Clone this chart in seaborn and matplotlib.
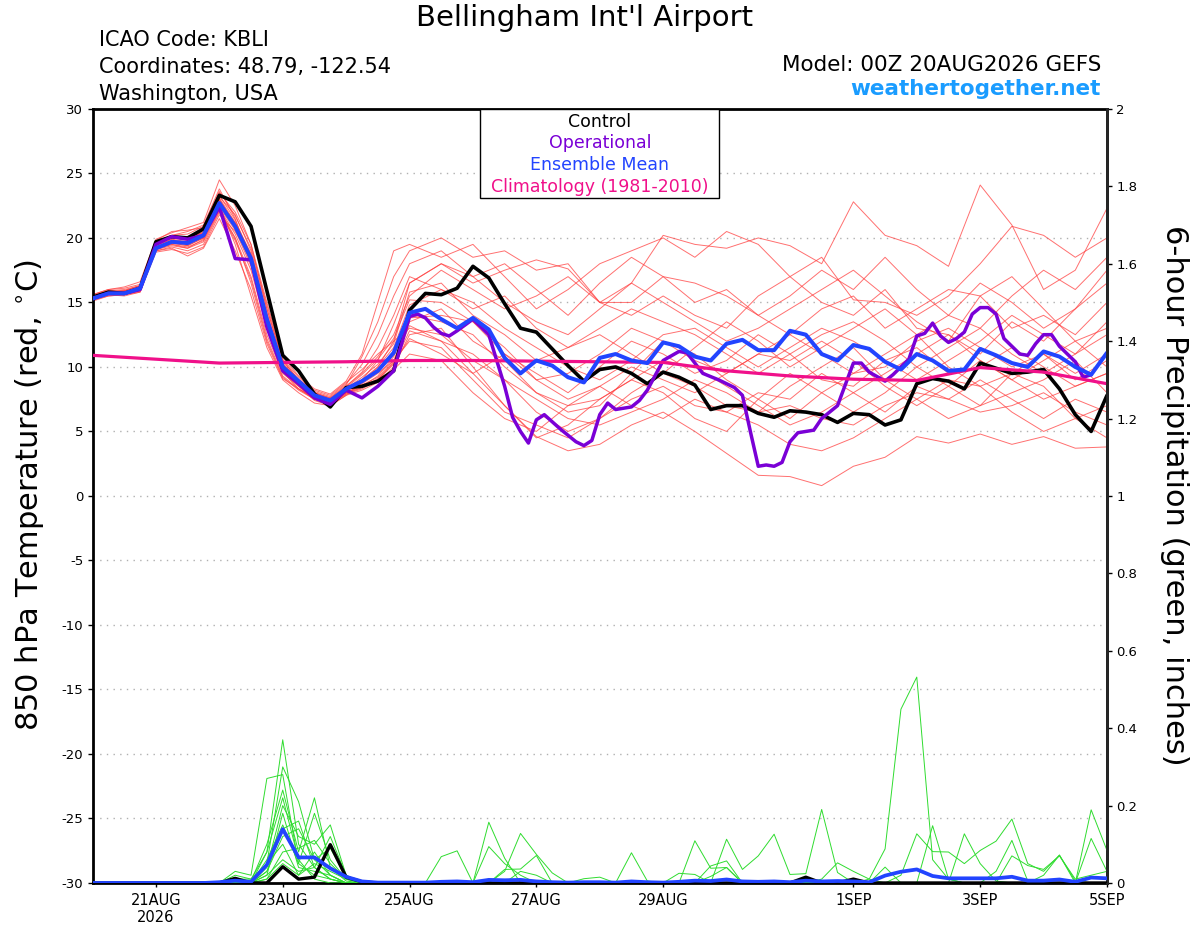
import numpy as np
import pandas as pd
import matplotlib
matplotlib.use('Agg')
import matplotlib.pyplot as plt
from matplotlib.patches import Rectangle
import seaborn as sns

# ---- data ----
# hours after 00Z 20AUG2026, 6-hourly
hours_6h = list(range(0, 385, 6))

control_temp = [15.4, 15.8, 15.7, 16.1, 19.7, 20.1, 20.0, 20.7, 23.3, 22.8, 20.9, 15.9, 10.9,
                9.7, 7.9, 6.9, 8.4, 8.5, 8.9, 9.7, 14.4, 15.7, 15.6, 16.1, 17.8, 16.9,
                14.9, 13.0, 12.7, 11.4, 10.1, 8.9, 9.8, 10.0, 9.5, 8.7, 9.6, 9.2, 8.6,
                6.7, 7.0, 7.0, 6.4, 6.1, 6.6, 6.5, 6.3, 5.7, 6.4, 6.3, 5.5, 5.9,
                8.7, 9.1, 8.9, 8.3, 10.3, 9.9, 9.5, 9.6, 9.8, 8.3, 6.3, 5.0, 7.8]

mean_temp = [15.3, 15.7, 15.7, 16.1, 19.2, 19.7, 19.6, 20.2, 22.7, 20.9, 18.4, 13.7, 10.0,
             8.9, 7.8, 7.4, 8.3, 8.9, 9.7, 11.1, 14.2, 14.5, 13.7, 13.0, 13.8, 12.9,
             10.7, 9.5, 10.5, 10.1, 9.2, 8.8, 10.7, 11.0, 10.5, 10.3, 11.9, 11.6, 10.8,
             10.5, 11.8, 12.1, 11.3, 11.3, 12.8, 12.5, 11.0, 10.5, 11.7, 11.4, 10.4, 9.8,
             11.0, 10.5, 9.7, 9.8, 11.4, 10.9, 10.3, 10.0, 11.2, 10.8, 10.0, 9.4, 11.1]

# operational run: 6-hourly for the first 5 days, then 3-hourly vertices
op_hours = [0, 6, 12, 18, 24, 30, 36, 42, 48, 54, 60, 66, 72, 78, 84, 90, 96, 102, 108, 114, 120,
            123, 126, 129, 132, 135, 138, 144, 150, 153, 156, 159, 162, 165, 168, 171, 177, 183,
            186, 189, 192, 195, 198, 204, 207, 210, 216, 222, 225, 228, 231, 237, 243, 246, 249,
            252, 255, 258, 261, 264, 267, 273, 276, 282, 288, 291, 294, 300, 303, 309, 312, 315,
            318, 321, 324, 327, 330, 333, 336, 339, 342, 345, 351, 354, 357, 360, 363, 366, 372,
            375, 378]
op_temp = [15.3, 15.7, 15.7, 16.0, 19.5, 20.1, 19.9, 20.2, 22.4, 18.4, 18.3, 13.1, 9.7, 8.7, 7.6,
           7.1, 8.2, 7.6, 8.5, 9.7, 13.9,
           14.1, 13.8, 13.1, 12.6, 12.4, 12.8, 13.7, 12.5, 10.5, 8.5, 6.1, 5.0, 4.1, 5.9, 6.3, 5.2, 4.2,
           3.9, 4.3, 6.3, 7.2, 6.7, 6.9, 7.4, 8.2, 10.5, 11.2, 11.1, 10.3, 9.5, 9.0, 8.4, 7.8, 5.0,
           2.3, 2.4, 2.3, 2.6, 4.2, 4.9, 5.1, 6.0, 7.0, 10.3, 10.3, 9.6, 8.9, 9.4, 10.6, 12.4, 12.6,
           13.4, 12.4, 11.9, 12.2, 12.7, 14.1, 14.6, 14.6, 14.1, 12.2, 11.0, 10.9, 11.8, 12.5, 12.5, 11.6, 10.4,
           9.2, 9.4]

clim_hours = list(range(0, 385, 24))
clim_temp = [10.9, 10.6, 10.3, 10.35, 10.4, 10.5, 10.5, 10.45, 10.4, 10.35, 9.7, 9.3, 9.05,
             8.95, 9.95, 9.6, 8.7]

# ensemble members: 6-hourly to 25AUG, 12-hourly after
member_hours = list(range(0, 121, 6)) + list(range(132, 385, 12))
members = {
    'm01': [15.6, 16.0, 16.2, 16.6, 19.9, 20.4, 20.8, 21.2, 24.5, 22.5, 19.5, 14.5, 10.5, 9.0, 8.0, 7.6, 8.6, 10.8, 13.5, 17.0, 19.0,
            20.0, 18.5, 19.0, 17.5, 18.0, 15.0, 16.5, 20.2, 19.5, 19.2, 20.0, 19.4, 18.0, 22.8, 20.2, 19.4, 17.8, 24.1, 21.0, 16.0, 17.5, 22.3],
    'm02': [15.2, 15.6, 15.5, 15.8, 19.0, 19.3, 19.0, 19.5, 22.0, 20.0, 17.0, 12.5, 9.5, 8.5, 7.5, 7.2, 8.0, 8.6, 9.2, 10.5, 13.5,
            14.5, 12.0, 10.5, 8.0, 6.5, 7.0, 9.5, 12.0, 11.0, 9.0, 7.5, 6.0, 8.0, 9.5, 11.0, 12.5, 10.0, 8.5, 9.5, 11.0, 9.0, 10.5],
    'm03': [15.4, 15.8, 15.9, 16.2, 19.5, 20.0, 19.8, 20.5, 23.0, 21.0, 18.5, 13.5, 9.8, 8.6, 7.5, 7.0, 7.8, 8.2, 8.8, 10.0, 12.5,
            13.0, 10.0, 7.0, 4.6, 3.5, 4.0, 5.5, 6.5, 5.0, 3.3, 1.6, 1.5, 0.8, 2.3, 3.0, 4.6, 4.1, 4.8, 4.0, 4.6, 3.7, 3.8],
    'm04': [15.3, 15.7, 15.8, 16.0, 19.3, 19.8, 19.6, 20.0, 22.5, 19.5, 15.5, 11.5, 9.0, 8.0, 7.2, 7.0, 7.8, 8.8, 10.0, 11.5, 14.8,
            16.0, 15.0, 13.0, 11.5, 10.0, 9.0, 10.5, 12.5, 13.0, 11.5, 10.0, 11.5, 13.0, 12.0, 10.5, 9.0, 10.5, 12.0, 14.0, 12.5, 11.0, 13.5],
    'm05': [15.5, 15.9, 16.0, 16.3, 19.6, 20.2, 20.5, 21.0, 23.8, 21.5, 18.0, 13.0, 9.6, 8.3, 7.6, 7.4, 8.5, 9.5, 10.8, 12.5, 15.5,
            17.5, 16.0, 14.5, 15.5, 17.0, 15.0, 14.0, 15.5, 14.0, 13.0, 15.5, 17.0, 15.0, 14.0, 16.0, 13.0, 12.5, 11.0, 13.5, 12.0, 14.5, 16.5],
    'm06': [15.1, 15.5, 15.6, 15.9, 18.9, 19.1, 18.8, 19.3, 21.8, 20.5, 18.5, 14.0, 10.2, 9.0, 8.2, 7.8, 8.8, 9.8, 11.0, 12.0, 13.0,
            12.5, 10.5, 9.0, 6.5, 5.0, 6.0, 8.0, 9.5, 8.5, 7.0, 6.5, 8.5, 10.0, 11.5, 9.0, 7.5, 6.0, 7.0, 8.0, 9.0, 10.5, 8.0],
    'm07': [15.4, 15.8, 15.7, 16.1, 19.4, 19.9, 19.7, 20.3, 23.2, 21.8, 19.0, 14.5, 10.5, 9.0, 7.8, 7.3, 8.2, 9.0, 10.5, 13.3, 16.5,
            18.0, 16.5, 17.5, 18.3, 17.6, 15.0, 15.0, 17.0, 16.5, 15.5, 14.0, 12.5, 14.5, 15.5, 13.0, 14.5, 16.0, 15.5, 13.0, 14.0, 12.5, 15.0],
    'm08': [15.2, 15.6, 15.6, 15.9, 19.2, 19.5, 19.3, 19.8, 22.2, 20.0, 16.5, 12.0, 9.2, 8.2, 7.5, 7.1, 8.0, 8.5, 9.3, 10.8, 13.8,
            14.0, 13.5, 11.0, 9.5, 8.0, 10.0, 12.0, 11.0, 9.5, 10.5, 12.5, 11.0, 9.0, 8.5, 10.5, 11.5, 9.5, 10.0, 11.5, 10.0, 8.5, 9.5],
    'm09': [15.3, 15.7, 15.7, 16.1, 19.2, 19.7, 19.5, 20.2, 22.8, 21.2, 18.8, 14.0, 10.0, 8.9, 7.7, 7.2, 8.1, 8.7, 9.5, 10.5, 12.0,
            11.5, 9.0, 6.5, 5.5, 4.5, 6.0, 7.5, 8.5, 7.0, 6.5, 5.5, 4.0, 3.5, 4.5, 6.0, 7.5, 9.0, 8.5, 6.5, 5.0, 6.0, 7.0],
    'm10': [15.6, 16.0, 16.1, 16.4, 19.8, 20.5, 20.6, 20.8, 23.5, 22.0, 19.5, 15.0, 10.8, 9.3, 8.3, 7.9, 8.9, 11.0, 15.0, 19.0, 19.5,
            18.5, 19.5, 17.0, 14.5, 16.0, 18.0, 19.0, 20.0, 18.5, 20.5, 19.5, 17.0, 18.5, 15.2, 15.0, 14.0, 15.5, 18.0, 20.9, 20.2, 18.5, 20.0],
    'm11': [15.3, 15.7, 15.8, 16.0, 19.3, 19.6, 19.4, 20.0, 22.4, 20.6, 17.8, 13.2, 9.8, 8.7, 7.6, 7.2, 8.0, 8.6, 9.0, 9.8, 11.0,
            10.5, 8.0, 6.0, 5.0, 7.0, 8.5, 10.0, 9.0, 8.0, 9.5, 11.0, 10.5, 12.0, 10.5, 8.5, 7.0, 8.5, 10.5, 9.0, 7.5, 8.5, 9.5],
    'm12': [15.5, 15.9, 15.9, 16.3, 19.6, 20.1, 20.0, 20.6, 23.3, 21.4, 18.6, 13.8, 10.1, 8.8, 7.9, 7.5, 8.3, 9.2, 10.2, 11.8, 15.8,
            16.5, 14.0, 12.5, 10.5, 11.5, 13.0, 14.5, 13.5, 12.5, 11.0, 9.5, 11.0, 12.5, 13.5, 12.0, 10.0, 11.5, 13.0, 11.0, 9.5, 11.0, 12.5],
    'm13': [15.2, 15.5, 15.6, 15.8, 19.0, 19.2, 18.6, 19.2, 21.5, 19.0, 16.0, 11.8, 9.1, 8.3, 7.6, 7.3, 8.0, 8.4, 9.0, 10.2, 12.8,
            12.0, 11.0, 9.0, 7.5, 6.0, 5.5, 6.5, 7.5, 9.0, 8.0, 6.5, 7.0, 6.0, 5.5, 7.0, 8.0, 7.5, 6.5, 7.0, 8.0, 6.5, 5.5],
    'm14': [15.4, 15.8, 15.8, 16.2, 19.4, 19.9, 20.1, 20.4, 23.0, 21.0, 18.2, 13.4, 9.9, 8.8, 7.8, 7.4, 8.4, 9.0, 10.0, 12.0, 16.5,
            18.0, 17.0, 15.0, 13.5, 12.5, 14.5, 16.5, 15.0, 13.5, 12.0, 13.0, 14.5, 16.0, 17.5, 15.5, 13.5, 12.0, 15.5, 17.0, 14.5, 12.0, 13.0],
    'm15': [15.3, 15.6, 15.7, 16.0, 19.1, 19.6, 19.4, 20.0, 22.6, 20.8, 18.0, 13.6, 10.0, 8.8, 7.7, 7.2, 8.1, 8.8, 9.6, 11.0, 14.0,
            13.5, 12.5, 10.0, 8.0, 7.0, 7.5, 9.0, 10.5, 10.0, 8.5, 7.0, 5.5, 6.5, 8.0, 9.5, 11.0, 12.5, 10.5, 9.0, 10.5, 12.0, 10.0],
    'm16': [15.4, 15.7, 15.8, 16.1, 19.3, 19.8, 19.7, 20.2, 22.9, 21.1, 18.7, 14.2, 10.3, 9.0, 8.0, 7.5, 8.4, 9.4, 10.6, 12.2, 15.2,
            15.0, 13.5, 11.5, 9.0, 9.5, 11.0, 13.0, 12.0, 10.5, 9.5, 11.0, 12.5, 11.0, 9.5, 10.0, 12.0, 13.0, 11.5, 10.0, 11.0, 9.5, 11.0],
    'm17': [15.3, 15.7, 15.6, 16.0, 19.1, 19.5, 19.2, 19.9, 22.3, 20.3, 17.5, 13.0, 9.6, 8.5, 7.4, 7.0, 7.9, 8.3, 9.0, 10.4, 13.2,
            12.0, 9.5, 7.0, 4.5, 5.5, 7.5, 9.0, 8.0, 6.0, 5.0, 7.5, 9.5, 8.0, 6.5, 8.0, 10.0, 8.5, 7.0, 9.5, 8.5, 6.0, 4.5],
    'm18': [15.4, 15.8, 15.9, 16.2, 19.5, 20.0, 19.9, 20.4, 23.1, 21.2, 18.4, 13.9, 10.2, 9.0, 8.0, 7.6, 8.5, 9.6, 11.5, 14.0, 17.0,
            16.0, 14.5, 15.5, 13.0, 11.5, 12.5, 11.0, 9.5, 11.5, 13.5, 12.0, 10.0, 11.5, 13.0, 14.5, 12.5, 14.0, 16.5, 15.0, 13.0, 14.5, 17.5],
    'm19': [15.2, 15.6, 15.7, 15.9, 19.1, 19.4, 19.2, 19.7, 22.1, 19.8, 16.8, 12.2, 9.3, 8.3, 7.5, 7.1, 7.9, 8.4, 9.1, 10.3, 12.2,
            11.0, 9.5, 11.0, 9.0, 7.5, 8.5, 7.0, 6.0, 7.5, 6.5, 8.0, 7.5, 9.5, 8.0, 6.5, 8.5, 7.5, 9.0, 7.5, 6.0, 7.5, 6.5],
    'm20': [15.5, 15.8, 15.9, 16.3, 19.7, 20.2, 20.3, 20.9, 23.6, 21.7, 19.2, 14.8, 10.6, 9.2, 8.1, 7.7, 8.7, 10.2, 12.5, 15.5, 18.0,
            19.0, 17.0, 18.0, 16.0, 14.0, 16.5, 18.5, 17.0, 15.0, 16.0, 14.0, 15.5, 17.5, 16.0, 18.5, 16.0, 14.0, 13.0, 15.5, 17.5, 16.0, 18.5],
}

# 6-hour precipitation (inches), 6-hourly
mean_precip = [0, 0, 0, 0, 0, 0, 0, 0, 0.002, 0.006, 0.003, 0.047, 0.139, 0.066, 0.066, 0.038,
               0.016, 0.004, 0.001, 0.001, 0.001, 0.001, 0.003, 0.004, 0.002, 0.008, 0.007, 0.008,
               0.004, 0.002, 0.001, 0.002, 0.002, 0.001, 0.004, 0.002, 0.001, 0.003, 0.006, 0.005,
               0.009, 0.004, 0.003, 0.004, 0.002, 0.006, 0.004, 0.005, 0.004, 0.002, 0.019, 0.029,
               0.035, 0.018, 0.012, 0.012, 0.012, 0.012, 0.016, 0.006, 0.006, 0.009, 0.003, 0.014, 0.012]
control_precip = {9: 0.012, 12: 0.042, 13: 0.010, 14: 0.015, 15: 0.099, 16: 0.015, 17: 0.003,
                  45: 0.015, 48: 0.010}

# member precip, keyed by 6-hour step (all other steps are 0)
precip_members = {
    'g01': {9: .03, 10: .02, 11: .27, 12: .28, 13: .05, 14: .02, 15: .01, 22: .068, 23: .083},
    'g02': {9: .01, 10: .01, 11: .08, 12: .37, 13: .10, 14: .04, 15: .01, 25: .157, 26: .064},
    'g03': {9: .02, 10: .01, 11: .05, 12: .30, 13: .21, 14: .06, 15: .02, 25: .094, 26: .05, 27: .02,
            58: .07, 59: .045, 60: .035, 61: .07, 62: .01, 63: .02, 64: .03},
    'g04': {10: .005, 11: .10, 12: .24, 13: .08, 14: .22, 15: .04, 16: .005, 26: .03, 27: .128, 28: .074, 29: .026},
    'g05': {11: .04, 12: .20, 13: .12, 14: .10, 15: .15, 16: .02, 26: .035, 27: .036, 28: .071, 50: .041},
    'g06': {9: .01, 11: .06, 12: .15, 13: .05, 14: .18, 15: .06, 16: .01, 25: .01, 27: .03, 28: .02,
            51: .02, 52: .127, 53: .081, 54: .08, 55: .05, 56: .084, 57: .108, 58: .165, 59: .05, 60: .03,
            61: .072, 62: .005},
    'g07': {11: .03, 12: .12, 13: .14, 14: .06, 15: .09, 16: .015, 31: .011, 32: .015, 34: .078, 35: .005,
            53: .148, 54: .01},
    'g08': {11: .02, 12: .18, 13: .04, 14: .03, 15: .02, 37: .025, 38: .022, 55: .127, 56: .05, 57: .005},
    'g09': {11: .01, 12: .08, 13: .09, 14: .11, 15: .05, 16: .01, 38: .109, 39: .038, 40: .04, 57: .03,
            58: .11, 59: .005},
    'g10': {11: .05, 12: .10, 13: .02, 14: .05, 15: .03, 16: .01, 40: .113, 41: .035, 42: .07, 43: .126,
            44: .022, 45: .024, 46: .19, 47: .027, 63: .189, 64: .084},
    'g11': {9: .005, 11: .02, 12: .06, 13: .03, 14: .04, 15: .12, 16: .02, 39: .044, 40: .057, 63: .115, 64: .03},
    'g12': {11: .08, 12: .22, 13: .06, 14: .01, 39: .017, 40: .04, 60: .02, 61: .072},
    'g13': {11: .03, 12: .14, 13: .16, 14: .04, 15: .01, 49: .01, 50: .088, 51: .449, 52: .532, 53: .06, 54: .01},
    'g14': {9: .01, 11: .01, 12: .05, 13: .02, 14: .08, 15: .02, 46: .01, 47: .052, 48: .03, 49: .01},
}

tick_hours = [24, 72, 120, 168, 216, 288, 336, 384]
tick_labels = ['21AUG\n2026', '23AUG', '25AUG', '27AUG', '29AUG', '1SEP', '3SEP', '5SEP']

# ---- colours ----
RED = '#ff4040'
GREEN = '#2fdc2f'
PURPLE = '#7a00d6'
BLUE = '#2244ff'
PINK = '#f0108a'

# ---- long tables for seaborn ----
temp_rows = []
for name, vals in members.items():
    for h, v in zip(member_hours, vals):
        temp_rows.append({'member': name, 'hour': h, 'temp': v})
temp_df = pd.DataFrame(temp_rows)

precip_rows = []
for name, vals in precip_members.items():
    for i, h in enumerate(hours_6h):
        precip_rows.append({'member': name, 'hour': h, 'precip': vals.get(i, 0.0)})
precip_df = pd.DataFrame(precip_rows)
control_precip_full = [control_precip.get(i, 0.0) for i in range(len(hours_6h))]

# ---- figure ----
sns.set_style('white')
plt.rcParams['font.family'] = ['DejaVu Sans']
plt.rcParams['text.color'] = 'black'
plt.rcParams['xtick.color'] = 'black'
plt.rcParams['ytick.color'] = 'black'
plt.rcParams['axes.unicode_minus'] = False

fig = plt.figure(figsize=(12, 9.27), dpi=100)
ax = fig.add_axes([0.0771, 0.0475, 0.8454, 0.8350])

sns.lineplot(data=temp_df, x='hour', y='temp', units='member', estimator=None,
             color=RED, linewidth=0.7, alpha=0.75, legend=False, ax=ax, zorder=2)
sns.lineplot(x=clim_hours, y=clim_temp, color=PINK, linewidth=2.3, ax=ax, zorder=4)
sns.lineplot(x=hours_6h, y=control_temp, color='black', linewidth=2.6, ax=ax, zorder=3)
sns.lineplot(x=op_hours, y=op_temp, color=PURPLE, linewidth=2.5, ax=ax, zorder=3.5)
sns.lineplot(x=hours_6h, y=mean_temp, color=BLUE, linewidth=2.9, ax=ax, zorder=5)

ax.set_xlim(0, 384)
ax.set_ylim(-30, 30)
ax.set_yticks(range(-30, 31, 5))
ax.set_xticks(tick_hours)
ax.set_xticklabels(tick_labels)
ax.set_xlabel('')
ax.set_ylabel('')
ax.grid(axis='y', color='#b0b0b0', linestyle=(0, (1, 3.8)), linewidth=1.0)
ax.grid(axis='x', visible=False)
ax.set_axisbelow(True)
ax.tick_params(axis='y', left=True, direction='out', length=3.6, width=1, labelsize=9.5, pad=3)
ax.tick_params(axis='x', bottom=True, direction='out', length=3, width=1, labelsize=10.5, pad=4)
for s in ax.spines.values():
    s.set_color('black')
    s.set_linewidth(2)

# precipitation on the right axis
ax2 = ax.twinx()
sns.lineplot(data=precip_df, x='hour', y='precip', units='member', estimator=None,
             color=GREEN, linewidth=0.7, legend=False, ax=ax2, zorder=2)
sns.lineplot(x=hours_6h, y=control_precip_full, color='black', linewidth=2.4, ax=ax2, zorder=3)
sns.lineplot(x=hours_6h, y=mean_precip, color=BLUE, linewidth=2.7, ax=ax2, zorder=4)
ax2.set_xlim(0, 384)
ax2.set_ylim(0, 2)
rticks = np.round(np.arange(0, 2.01, 0.2), 1)
ax2.set_yticks(rticks)
ax2.set_yticklabels([f'{v:g}' for v in rticks])
ax2.set_ylabel('')
ax2.grid(False)
ax2.tick_params(axis='y', right=True, direction='out', length=3.6, width=1, labelsize=9.5, pad=3)
for side in ['left', 'top', 'bottom']:
    ax2.spines[side].set_visible(False)
ax2.spines['right'].set_linewidth(2)

# axis titles
fig.text(0.025, 0.466, '850 hPa Temperature (red, $^{\\circ}$C)', rotation=90,
         ha='center', va='center', fontsize=22)
fig.text(0.979, 0.466, '6-hour Precipitation (green, inches)', rotation=-90,
         ha='center', va='center', fontsize=22)

# header
fig.text(0.4875, 0.981, "Bellingham Int'l Airport", ha='center', va='center', fontsize=21)
fig.text(0.0825, 0.9507, 'ICAO Code: KBLI', ha='left', va='baseline', fontsize=15)
fig.text(0.0825, 0.9216, 'Coordinates: 48.79, -122.54', ha='left', va='baseline', fontsize=15)
fig.text(0.0825, 0.8921, 'Washington, USA', ha='left', va='baseline', fontsize=15)
fig.text(0.9175, 0.9237, 'Model: 00Z 20AUG2026 GEFS', ha='right', va='baseline', fontsize=15.5)
fig.text(0.9175, 0.8975, 'weathertogether.net', ha='right', va='baseline', fontsize=15.5,
         fontweight='bold', color='#1a9cff')

# legend box
fig.add_artist(Rectangle((480 / 1200, 1 - 198 / 927), 239 / 1200, 89 / 927,
                         transform=fig.transFigure, facecolor='white', edgecolor='black',
                         linewidth=1.0, zorder=5))
legend_items = [('Control', 'black', 126.7), ('Operational', PURPLE, 147.7),
                ('Ensemble Mean', BLUE, 170.0), ('Climatology (1981-2010)', PINK, 191.7)]
for label, col, base in legend_items:
    fig.text(600 / 1200, 1 - base / 927, label, ha='center', va='baseline',
             fontsize=12.5, color=col, zorder=6)

fig.savefig('out.png', dpi=100, facecolor='white')
